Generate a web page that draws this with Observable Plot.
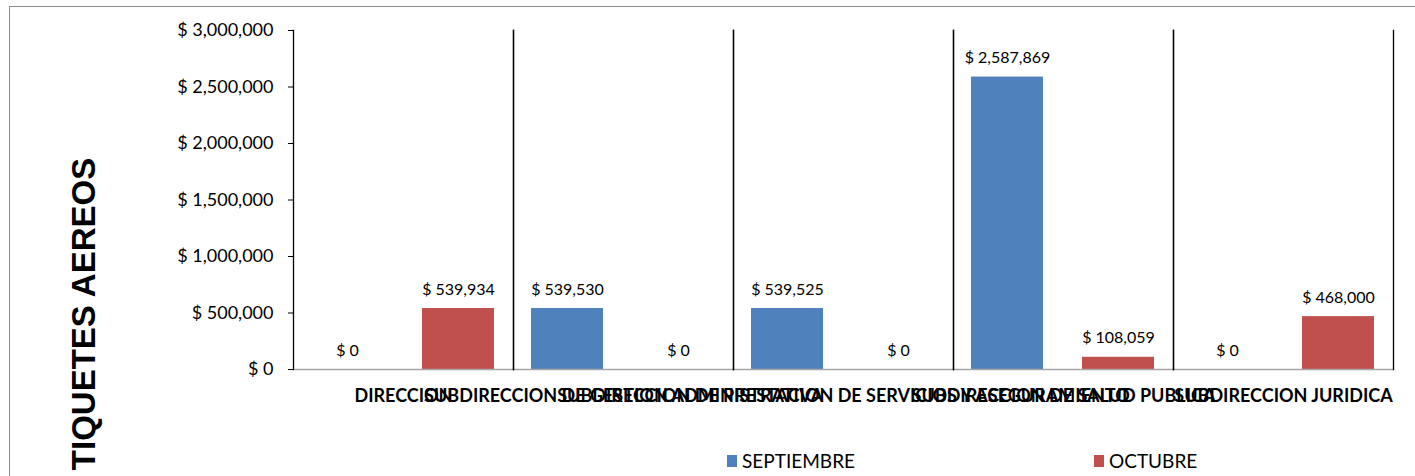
<!DOCTYPE html>
<html><head><meta charset="utf-8">
<script src="https://cdn.jsdelivr.net/npm/d3@7"></script>
<script src="https://cdn.jsdelivr.net/npm/@observablehq/plot@0.6"></script>
<style>
html,body{margin:0;padding:0;background:#fff;overflow:hidden}
#wrap{position:relative;width:1415px;height:476px;overflow:hidden;background:#fff}
#border{position:absolute;left:9px;top:6px;width:1500px;height:600px;border-left:1.5px solid #8c8c8c;border-top:1.5px solid #8c8c8c}
#chart{position:absolute;left:0;top:0}
#ytitle{position:absolute;left:84px;top:314px;transform:translate(-50%,-50%) rotate(-90deg);font:bold 33px "Liberation Sans",Arial,sans-serif;white-space:nowrap;color:#000}
.leg{position:absolute;top:455px;display:flex;align-items:center;font:19px Lato,sans-serif;color:#000;line-height:12px}
.sw{width:10px;height:12px;margin-right:5px}
</style></head><body>
<div id="wrap"><div id="border"></div><div id="chart"></div><div id="ytitle">TIQUETES AEREOS</div><div id="legend"></div></div>
<script>
const categories = ["DIRECCION","SUBDIRECCION DE GESTION ADMINISTRATIVA","SUBDIRECCION DE PRESTACION DE SERVICIOS Y ASEGURAMIENTO","SUBDIRECCION DE SALUD PUBLICA","SUBDIRECCION JURIDICA"];
const series = ["SEPTIEMBRE","OCTUBRE"];
const septiembre = [0, 539530, 539525, 2587869, 0];
const octubre = [539934, 0, 0, 108059, 468000];
const colors = ["#4F81BD","#C0504D"];
const yTicks = [0, 500000, 1000000, 1500000, 2000000, 2500000, 3000000];
const legendX = [727, 1094];

const data = categories.flatMap((c, i) => [
  {cat: c, serie: series[0], value: septiembre[i]},
  {cat: c, serie: series[1], value: octubre[i]}
]);
const fmt = d => "$ " + d3.format(",")(d);

const plot = Plot.plot({
  width: 1415, height: 476,
  marginTop: 30, marginRight: 22, marginBottom: 107, marginLeft: 292,
  style: {fontFamily: "Lato, sans-serif", background: "transparent", color: "#000", overflow: "visible"},
  fx: {domain: categories, padding: 0, label: null},
  x: {domain: series, paddingInner: 0.348, paddingOuter: 0.16, axis: null},
  y: {domain: [0, 3000000], label: null},
  color: {domain: series, range: colors},
  marks: [
    Plot.barY(data, {fx: "cat", x: "serie", y: "value", fill: "serie"}),
    Plot.ruleY([0], {stroke: "#a6a6a6", strokeWidth: 1.5}),
    Plot.frame({anchor: "left", stroke: "#000", strokeWidth: 1.3}),
    Plot.frame({anchor: "right", stroke: "#000", strokeWidth: 1.3}),
    Plot.text(data, {fx: "cat", x: "serie", y: "value", text: d => fmt(d.value), dy: -19, fontSize: 16, lineAnchor: "middle", fill: "#000"}),
    Plot.axisY({ticks: yTicks, tickFormat: fmt, tickSize: 5, tickPadding: 15, fontSize: 18, label: null}),
    Plot.axisFx({anchor: "bottom", tickSize: 0, tickPadding: 20, fontSize: 18, fontWeight: "bold", fontFamily: "Lato, sans-serif", label: null})
  ]
});
document.getElementById("chart").appendChild(plot);

const legend = document.getElementById("legend");
series.forEach((s, i) => {
  const item = document.createElement("div");
  item.className = "leg";
  item.style.left = legendX[i] + "px";
  const sw = document.createElement("div");
  sw.className = "sw";
  sw.style.background = colors[i];
  item.appendChild(sw);
  item.appendChild(document.createTextNode(s));
  legend.appendChild(item);
});
</script>
</body></html>
